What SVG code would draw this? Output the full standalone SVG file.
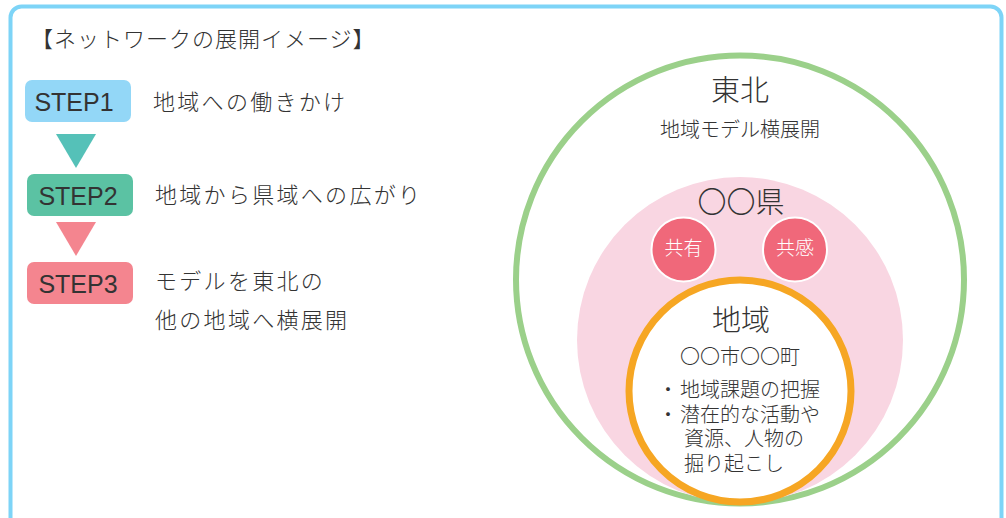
<svg xmlns="http://www.w3.org/2000/svg" width="1006" height="518" viewBox="0 0 1006 518">
<style>
.jp{font-family:"Noto Sans CJK JP","Noto Sans",sans-serif;fill:#333333;font-weight:300}
.lt{letter-spacing:2.3px}
.lat{font-family:"Liberation Sans",Arial,sans-serif;fill:#333333;font-size:25px;text-anchor:middle}
.c{text-anchor:middle}
</style>
<rect width="1006" height="518" fill="#ffffff"/>
<rect id="frame" x="10.5" y="6.5" width="991" height="540" rx="11" fill="#ffffff" stroke="#7dd4f7" stroke-width="4"/>
<text class="jp" x="31" y="47" font-size="22" style="letter-spacing:1px">【ネットワークの展開イメージ】</text>
<g id="connectors">
<polygon points="56,134 96,134 76,168" fill="#55c1b8"/>
<polygon points="56,222 96,222 76,256" fill="#f4858f"/>
</g>
<g id="step1">
<rect x="25" y="80" width="106" height="42" rx="7" fill="#93d7f7"/>
<text class="lat" x="74" y="111">STEP1</text>
<text class="jp lt" x="153" y="110" font-size="22">地域への働きかけ</text>
</g>
<g id="step2">
<rect x="27" y="174" width="106" height="42" rx="7" fill="#5bc2a3"/>
<text class="lat" x="78" y="205">STEP2</text>
<text class="jp lt" x="155" y="203" font-size="22">地域から県域への広がり</text>
</g>
<g id="step3">
<rect x="27" y="262" width="106" height="42" rx="7" fill="#f4858f"/>
<text class="lat" x="78" y="293">STEP3</text>
<text class="jp lt" x="155" y="289" font-size="22">モデルを東北の</text>
<text class="jp lt" x="155" y="328" font-size="22">他の地域へ横展開</text>
</g>
<g id="tohoku">
<circle cx="740" cy="279.5" r="224" fill="#ffffff" stroke="#9bd08a" stroke-width="6"/>
<text class="jp c" x="740" y="101" font-size="29">東北</text>
<text class="jp c" x="740" y="137" font-size="20">地域モデル横展開</text>
</g>
<g id="ken">
<circle cx="740" cy="340" r="163" fill="#f9d6e2"/>
<text class="jp c" x="741" y="213" font-size="29">〇〇県</text>
</g>
<g id="kyoyu">
<circle cx="683.5" cy="249.5" r="32" fill="#f0687a" stroke="#ffffff" stroke-width="2"/>
<text class="jp c" x="683.5" y="255" font-size="19" style="fill:#ffffff">共有</text>
</g>
<g id="kyokan">
<circle cx="795" cy="249.5" r="32" fill="#f0687a" stroke="#ffffff" stroke-width="2"/>
<text class="jp c" x="795" y="255" font-size="19" style="fill:#ffffff">共感</text>
</g>
<g id="chiiki">
<circle cx="740" cy="391" r="111" fill="#ffffff" stroke="#f6a623" stroke-width="7"/>
<text class="jp c" x="741" y="331" font-size="29">地域</text>
<text class="jp c" x="740" y="364" font-size="20">〇〇市〇〇町</text>
<text class="jp" font-size="20"><tspan x="668" y="397" text-anchor="middle">・</tspan><tspan x="680" y="397">地域課題の把握</tspan></text>
<text class="jp" font-size="20"><tspan x="668" y="422" text-anchor="middle">・</tspan><tspan x="680" y="422">潜在的な活動や</tspan></text>
<text class="jp" x="684" y="446" font-size="20">資源、人物の</text>
<text class="jp" x="684" y="471" font-size="20">掘り起こし</text>
</g>
</svg>
